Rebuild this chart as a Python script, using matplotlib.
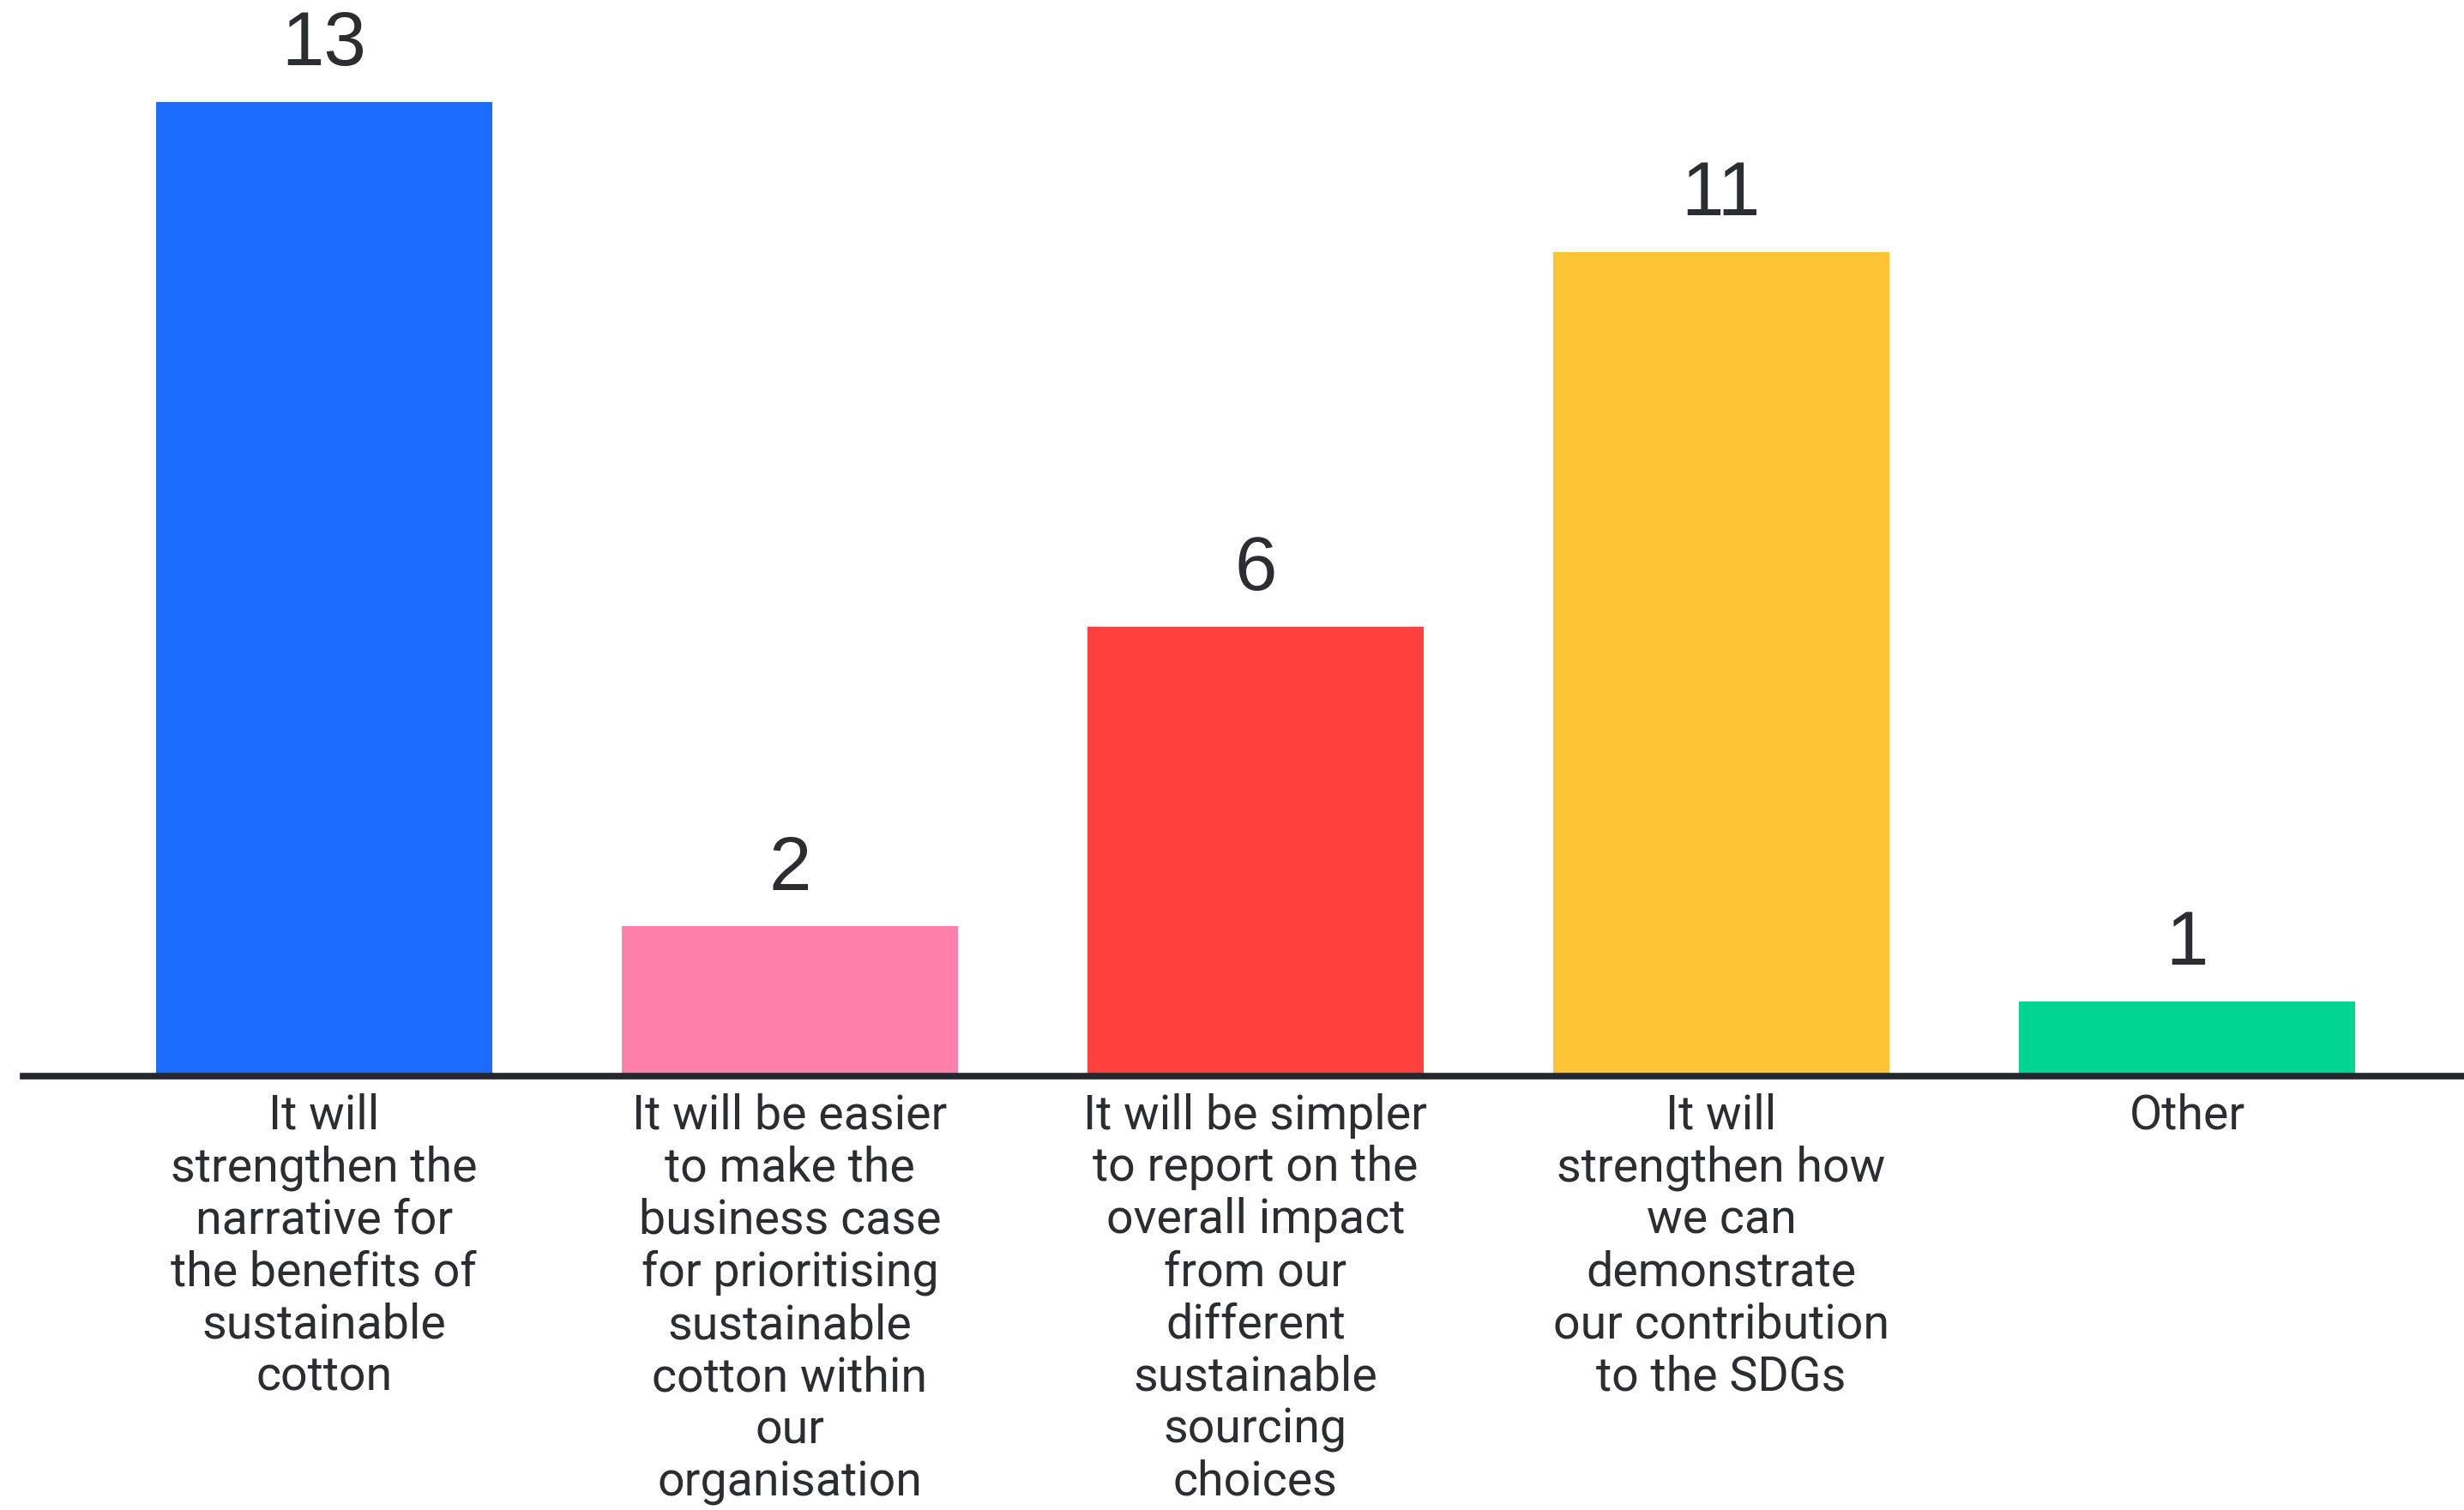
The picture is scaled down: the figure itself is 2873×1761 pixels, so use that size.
import matplotlib
matplotlib.use("Agg")
import matplotlib.pyplot as plt

# survey answers and counts
categories = [
    "It will\nstrengthen the\nnarrative for\nthe benefits of\nsustainable\ncotton",
    "It will be easier\nto make the\nbusiness case\nfor prioritising\nsustainable\ncotton within\nour\norganisation",
    "It will be simpler\nto report on the\noverall impact\nfrom our\ndifferent\nsustainable\nsourcing\nchoices",
    "It will\nstrengthen how\nwe can\ndemonstrate\nour contribution\nto the SDGs",
    "Other",
]
counts = [13, 2, 6, 11, 1]
colors = ["#1C6BFF", "#FF80AB", "#FF403D", "#FDC435", "#00D68F"]

text_color = "#2B2D33"

fig = plt.figure(figsize=(28.73, 17.61), dpi=100)
ax = fig.add_axes([0.0094, 0.2873, 0.9906, 0.7097])

x = list(range(len(counts)))
bars = ax.bar(x, counts, width=0.722, color=colors, zorder=2)

ax.set_xlim(-0.646, 4.595)
ax.set_ylim(0, 14.3)

for b, v in zip(bars, counts):
    ax.annotate(str(v), (b.get_x() + b.get_width() / 2, v),
                xytext=(0, 17), textcoords="offset points",
                ha="center", va="bottom", fontsize=64,
                family=["Liberation Sans", "DejaVu Sans"], color=text_color)

for xi, lab in zip(x, categories):
    ax.annotate(lab, (xi, 0), xytext=(0, -14), textcoords="offset points",
                ha="center", va="top", fontsize=40, family=["Roboto", "DejaVu Sans"],
                color=text_color, linespacing=1.19, annotation_clip=False)

for s in ["top", "right", "left"]:
    ax.spines[s].set_visible(False)
ax.spines["bottom"].set_linewidth(5.5)
ax.spines["bottom"].set_color("#24272E")
ax.spines["bottom"].set_zorder(3)
ax.set_xticks([])
ax.set_yticks([])

fig.savefig("out.png", dpi=100)
